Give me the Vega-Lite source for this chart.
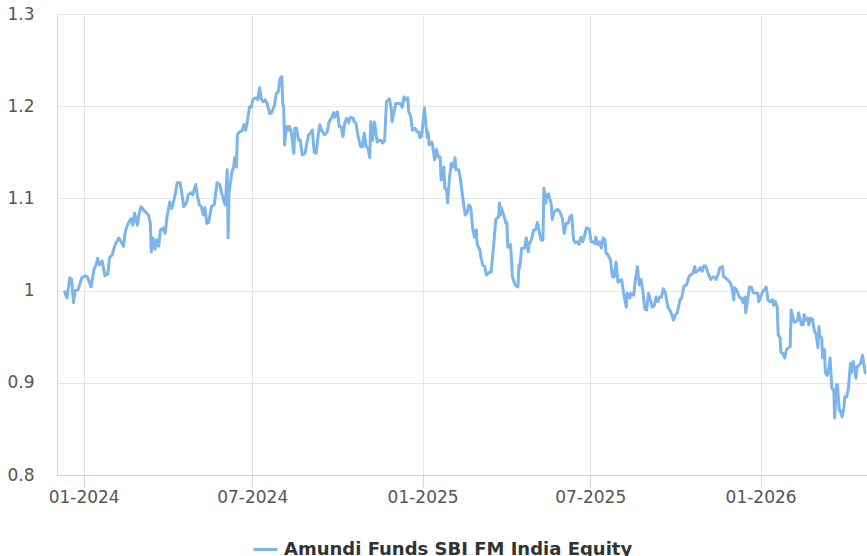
{
  "$schema": "https://vega.github.io/schema/vega-lite/v6.json",
  "width": 810,
  "height": 461,
  "autosize": "none",
  "padding": {"left": 57, "top": 14, "right": 0, "bottom": 81},
  "background": "#ffffff",
  "config": {
    "view": {"stroke": null},
    "axis": {
      "labelFont": "DejaVu Sans",
      "labelFontSize": 17,
      "labelColor": "#555555",
      "gridColor": "#e6e6e6",
      "gridWidth": 1,
      "domainColor": "#ccd6eb",
      "domainWidth": 1,
      "tickColor": "#ccd6eb",
      "title": null
    },
    "legend": {
      "labelFont": "DejaVu Sans",
      "labelFontSize": 18,
      "labelFontWeight": "bold",
      "labelColor": "#333333",
      "labelLimit": 600,
      "padding": 0
    }
  },
  "data": {
    "values": [
      {"date":"2023-12-11","value":1.000},{"date":"2023-12-14","value":0.992},{"date":"2023-12-17","value":1.014},{"date":"2023-12-19","value":1.012},{"date":"2023-12-21","value":0.987},{"date":"2023-12-23","value":1.000},{"date":"2023-12-26","value":1.001},{"date":"2023-12-30","value":1.014},
      {"date":"2024-01-03","value":1.016},{"date":"2024-01-05","value":1.015},{"date":"2024-01-09","value":1.004},{"date":"2024-01-12","value":1.022},{"date":"2024-01-15","value":1.030},{"date":"2024-01-16","value":1.035},{"date":"2024-01-18","value":1.028},{"date":"2024-01-21","value":1.032},{"date":"2024-01-24","value":1.016},{"date":"2024-01-27","value":1.018},{"date":"2024-01-29","value":1.036},
      {"date":"2024-02-01","value":1.039},{"date":"2024-02-03","value":1.047},{"date":"2024-02-05","value":1.052},{"date":"2024-02-08","value":1.057},{"date":"2024-02-11","value":1.052},{"date":"2024-02-13","value":1.048},{"date":"2024-02-15","value":1.064},{"date":"2024-02-18","value":1.073},{"date":"2024-02-21","value":1.078},{"date":"2024-02-23","value":1.071},{"date":"2024-02-25","value":1.084},{"date":"2024-02-28","value":1.071},
      {"date":"2024-03-01","value":1.084},{"date":"2024-03-03","value":1.091},{"date":"2024-03-06","value":1.087},{"date":"2024-03-09","value":1.084},{"date":"2024-03-11","value":1.082},{"date":"2024-03-13","value":1.073},{"date":"2024-03-14","value":1.042},{"date":"2024-03-16","value":1.057},{"date":"2024-03-18","value":1.045},{"date":"2024-03-20","value":1.055},{"date":"2024-03-22","value":1.048},{"date":"2024-03-24","value":1.066},{"date":"2024-03-27","value":1.068},{"date":"2024-03-29","value":1.062},{"date":"2024-03-31","value":1.080},
      {"date":"2024-04-03","value":1.096},{"date":"2024-04-05","value":1.089},{"date":"2024-04-07","value":1.096},{"date":"2024-04-09","value":1.105},{"date":"2024-04-11","value":1.117},{"date":"2024-04-14","value":1.117},{"date":"2024-04-16","value":1.106},{"date":"2024-04-18","value":1.091},{"date":"2024-04-21","value":1.095},{"date":"2024-04-23","value":1.104},{"date":"2024-04-26","value":1.106},{"date":"2024-04-28","value":1.104},
      {"date":"2024-05-01","value":1.115},{"date":"2024-05-03","value":1.102},{"date":"2024-05-05","value":1.093},{"date":"2024-05-07","value":1.091},{"date":"2024-05-09","value":1.082},{"date":"2024-05-11","value":1.090},{"date":"2024-05-13","value":1.073},{"date":"2024-05-15","value":1.074},{"date":"2024-05-18","value":1.091},{"date":"2024-05-21","value":1.093},{"date":"2024-05-24","value":1.117},{"date":"2024-05-27","value":1.115},{"date":"2024-05-29","value":1.106},
      {"date":"2024-06-01","value":1.095},{"date":"2024-06-02","value":1.093},{"date":"2024-06-04","value":1.131},{"date":"2024-06-05","value":1.057},{"date":"2024-06-06","value":1.106},{"date":"2024-06-09","value":1.128},{"date":"2024-06-11","value":1.134},{"date":"2024-06-12","value":1.144},{"date":"2024-06-14","value":1.134},{"date":"2024-06-15","value":1.169},{"date":"2024-06-17","value":1.172},{"date":"2024-06-20","value":1.173},{"date":"2024-06-22","value":1.180},{"date":"2024-06-24","value":1.174},{"date":"2024-06-26","value":1.185},{"date":"2024-06-28","value":1.199},{"date":"2024-06-30","value":1.199},
      {"date":"2024-07-02","value":1.208},{"date":"2024-07-05","value":1.209},{"date":"2024-07-07","value":1.207},{"date":"2024-07-09","value":1.220},{"date":"2024-07-11","value":1.207},{"date":"2024-07-13","value":1.205},{"date":"2024-07-15","value":1.207},{"date":"2024-07-17","value":1.203},{"date":"2024-07-20","value":1.192},{"date":"2024-07-22","value":1.193},{"date":"2024-07-25","value":1.201},{"date":"2024-07-27","value":1.214},{"date":"2024-07-29","value":1.215},{"date":"2024-07-31","value":1.230},
      {"date":"2024-08-02","value":1.232},{"date":"2024-08-03","value":1.203},{"date":"2024-08-04","value":1.199},{"date":"2024-08-05","value":1.158},{"date":"2024-08-07","value":1.178},{"date":"2024-08-09","value":1.174},{"date":"2024-08-10","value":1.178},{"date":"2024-08-12","value":1.173},{"date":"2024-08-15","value":1.149},{"date":"2024-08-16","value":1.176},{"date":"2024-08-18","value":1.176},{"date":"2024-08-20","value":1.163},{"date":"2024-08-22","value":1.163},{"date":"2024-08-24","value":1.147},{"date":"2024-08-27","value":1.149},{"date":"2024-08-29","value":1.160},{"date":"2024-08-31","value":1.169},
      {"date":"2024-09-02","value":1.171},{"date":"2024-09-04","value":1.174},{"date":"2024-09-06","value":1.150},{"date":"2024-09-08","value":1.149},{"date":"2024-09-10","value":1.166},{"date":"2024-09-12","value":1.180},{"date":"2024-09-14","value":1.174},{"date":"2024-09-17","value":1.169},{"date":"2024-09-20","value":1.172},{"date":"2024-09-22","value":1.183},{"date":"2024-09-25","value":1.188},{"date":"2024-09-27","value":1.193},{"date":"2024-09-28","value":1.188},
      {"date":"2024-10-01","value":1.194},{"date":"2024-10-03","value":1.178},{"date":"2024-10-05","value":1.178},{"date":"2024-10-07","value":1.167},{"date":"2024-10-09","value":1.182},{"date":"2024-10-11","value":1.187},{"date":"2024-10-13","value":1.182},{"date":"2024-10-15","value":1.188},{"date":"2024-10-18","value":1.187},{"date":"2024-10-19","value":1.183},{"date":"2024-10-21","value":1.182},{"date":"2024-10-23","value":1.169},{"date":"2024-10-26","value":1.156},{"date":"2024-10-28","value":1.156},{"date":"2024-10-30","value":1.171},
      {"date":"2024-11-01","value":1.156},{"date":"2024-11-03","value":1.155},{"date":"2024-11-05","value":1.144},{"date":"2024-11-06","value":1.183},{"date":"2024-11-08","value":1.163},{"date":"2024-11-10","value":1.183},{"date":"2024-11-13","value":1.161},{"date":"2024-11-15","value":1.163},{"date":"2024-11-17","value":1.163},{"date":"2024-11-19","value":1.160},{"date":"2024-11-21","value":1.163},{"date":"2024-11-23","value":1.205},{"date":"2024-11-26","value":1.208},{"date":"2024-11-28","value":1.199},{"date":"2024-11-29","value":1.183},
      {"date":"2024-12-01","value":1.193},{"date":"2024-12-03","value":1.203},{"date":"2024-12-06","value":1.203},{"date":"2024-12-08","value":1.203},{"date":"2024-12-10","value":1.199},{"date":"2024-12-12","value":1.210},{"date":"2024-12-14","value":1.207},{"date":"2024-12-16","value":1.209},{"date":"2024-12-17","value":1.194},{"date":"2024-12-19","value":1.190},{"date":"2024-12-21","value":1.174},{"date":"2024-12-24","value":1.176},{"date":"2024-12-26","value":1.172},{"date":"2024-12-28","value":1.172},{"date":"2024-12-29","value":1.166},{"date":"2024-12-31","value":1.167},
      {"date":"2025-01-03","value":1.198},{"date":"2025-01-04","value":1.187},{"date":"2025-01-06","value":1.166},{"date":"2025-01-07","value":1.172},{"date":"2025-01-08","value":1.158},{"date":"2025-01-11","value":1.161},{"date":"2025-01-12","value":1.156},{"date":"2025-01-14","value":1.142},{"date":"2025-01-16","value":1.153},{"date":"2025-01-18","value":1.145},{"date":"2025-01-20","value":1.145},{"date":"2025-01-21","value":1.120},{"date":"2025-01-24","value":1.134},{"date":"2025-01-25","value":1.111},{"date":"2025-01-27","value":1.109},{"date":"2025-01-28","value":1.095},{"date":"2025-01-30","value":1.122},
      {"date":"2025-02-01","value":1.138},{"date":"2025-02-03","value":1.134},{"date":"2025-02-05","value":1.144},{"date":"2025-02-06","value":1.131},{"date":"2025-02-09","value":1.131},{"date":"2025-02-11","value":1.120},{"date":"2025-02-13","value":1.104},{"date":"2025-02-16","value":1.082},{"date":"2025-02-18","value":1.084},{"date":"2025-02-20","value":1.093},{"date":"2025-02-22","value":1.090},{"date":"2025-02-24","value":1.068},{"date":"2025-02-26","value":1.058},{"date":"2025-02-28","value":1.066},
      {"date":"2025-03-01","value":1.050},{"date":"2025-03-04","value":1.044},{"date":"2025-03-05","value":1.036},{"date":"2025-03-07","value":1.028},{"date":"2025-03-09","value":1.026},{"date":"2025-03-11","value":1.017},{"date":"2025-03-14","value":1.020},{"date":"2025-03-16","value":1.020},{"date":"2025-03-19","value":1.052},{"date":"2025-03-21","value":1.077},{"date":"2025-03-24","value":1.080},{"date":"2025-03-25","value":1.095},{"date":"2025-03-26","value":1.082},{"date":"2025-03-27","value":1.090},{"date":"2025-03-29","value":1.084},
      {"date":"2025-04-01","value":1.073},{"date":"2025-04-02","value":1.074},{"date":"2025-04-03","value":1.047},{"date":"2025-04-06","value":1.050},{"date":"2025-04-07","value":1.033},{"date":"2025-04-08","value":1.015},{"date":"2025-04-11","value":1.006},{"date":"2025-04-14","value":1.004},{"date":"2025-04-15","value":1.028},{"date":"2025-04-16","value":1.025},{"date":"2025-04-18","value":1.046},{"date":"2025-04-21","value":1.046},{"date":"2025-04-23","value":1.057},{"date":"2025-04-25","value":1.042},{"date":"2025-04-26","value":1.050},{"date":"2025-04-29","value":1.057},
      {"date":"2025-05-01","value":1.066},{"date":"2025-05-03","value":1.066},{"date":"2025-05-05","value":1.074},{"date":"2025-05-07","value":1.064},{"date":"2025-05-09","value":1.055},{"date":"2025-05-11","value":1.055},{"date":"2025-05-12","value":1.111},{"date":"2025-05-14","value":1.095},{"date":"2025-05-15","value":1.104},{"date":"2025-05-17","value":1.105},{"date":"2025-05-20","value":1.093},{"date":"2025-05-21","value":1.077},{"date":"2025-05-23","value":1.085},{"date":"2025-05-25","value":1.087},{"date":"2025-05-27","value":1.088},{"date":"2025-05-30","value":1.084},
      {"date":"2025-06-01","value":1.078},{"date":"2025-06-03","value":1.062},{"date":"2025-06-05","value":1.073},{"date":"2025-06-07","value":1.073},{"date":"2025-06-09","value":1.080},{"date":"2025-06-11","value":1.082},{"date":"2025-06-13","value":1.055},{"date":"2025-06-15","value":1.052},{"date":"2025-06-17","value":1.053},{"date":"2025-06-19","value":1.050},{"date":"2025-06-21","value":1.058},{"date":"2025-06-23","value":1.053},{"date":"2025-06-25","value":1.060},{"date":"2025-06-27","value":1.068},{"date":"2025-06-30","value":1.067},
      {"date":"2025-07-02","value":1.053},{"date":"2025-07-04","value":1.053},{"date":"2025-07-06","value":1.051},{"date":"2025-07-07","value":1.058},{"date":"2025-07-09","value":1.050},{"date":"2025-07-11","value":1.053},{"date":"2025-07-13","value":1.046},{"date":"2025-07-15","value":1.057},{"date":"2025-07-17","value":1.055},{"date":"2025-07-18","value":1.041},{"date":"2025-07-20","value":1.039},{"date":"2025-07-23","value":1.033},{"date":"2025-07-25","value":1.015},{"date":"2025-07-27","value":1.015},{"date":"2025-07-29","value":1.031},{"date":"2025-07-31","value":1.009},
      {"date":"2025-08-04","value":1.012},{"date":"2025-08-06","value":0.998},{"date":"2025-08-09","value":0.982},{"date":"2025-08-10","value":0.997},{"date":"2025-08-13","value":0.992},{"date":"2025-08-14","value":0.997},{"date":"2025-08-17","value":0.995},{"date":"2025-08-19","value":1.014},{"date":"2025-08-21","value":1.026},{"date":"2025-08-23","value":1.006},{"date":"2025-08-25","value":1.012},{"date":"2025-08-27","value":0.998},{"date":"2025-08-29","value":0.980},{"date":"2025-08-31","value":0.979},
      {"date":"2025-09-02","value":0.997},{"date":"2025-09-04","value":0.990},{"date":"2025-09-06","value":0.982},{"date":"2025-09-08","value":0.983},{"date":"2025-09-10","value":0.993},{"date":"2025-09-12","value":0.988},{"date":"2025-09-14","value":0.993},{"date":"2025-09-16","value":0.993},{"date":"2025-09-18","value":1.002},{"date":"2025-09-20","value":0.998},{"date":"2025-09-23","value":0.982},{"date":"2025-09-25","value":0.979},{"date":"2025-09-27","value":0.974},{"date":"2025-09-29","value":0.968},
      {"date":"2025-10-01","value":0.974},{"date":"2025-10-03","value":0.976},{"date":"2025-10-06","value":0.990},{"date":"2025-10-08","value":0.993},{"date":"2025-10-10","value":1.004},{"date":"2025-10-12","value":1.006},{"date":"2025-10-13","value":1.006},{"date":"2025-10-16","value":1.016},{"date":"2025-10-18","value":1.017},{"date":"2025-10-20","value":1.019},{"date":"2025-10-22","value":1.026},{"date":"2025-10-23","value":1.020},{"date":"2025-10-26","value":1.022},{"date":"2025-10-28","value":1.025},{"date":"2025-10-30","value":1.021},
      {"date":"2025-11-01","value":1.027},{"date":"2025-11-03","value":1.026},{"date":"2025-11-05","value":1.020},{"date":"2025-11-08","value":1.012},{"date":"2025-11-10","value":1.014},{"date":"2025-11-12","value":1.015},{"date":"2025-11-14","value":1.012},{"date":"2025-11-16","value":1.017},{"date":"2025-11-18","value":1.025},{"date":"2025-11-21","value":1.026},{"date":"2025-11-22","value":1.015},{"date":"2025-11-24","value":1.014},{"date":"2025-11-26","value":1.012},{"date":"2025-11-29","value":1.009},
      {"date":"2025-12-01","value":1.004},{"date":"2025-12-03","value":0.990},{"date":"2025-12-04","value":1.003},{"date":"2025-12-06","value":1.001},{"date":"2025-12-09","value":0.993},{"date":"2025-12-11","value":0.992},{"date":"2025-12-13","value":0.987},{"date":"2025-12-15","value":0.993},{"date":"2025-12-16","value":0.976},{"date":"2025-12-18","value":0.990},{"date":"2025-12-20","value":1.004},{"date":"2025-12-22","value":1.004},{"date":"2025-12-24","value":0.998},{"date":"2025-12-27","value":0.997},{"date":"2025-12-29","value":0.997},{"date":"2025-12-30","value":0.988},
      {"date":"2026-01-01","value":0.993},{"date":"2026-01-03","value":0.998},{"date":"2026-01-05","value":1.001},{"date":"2026-01-07","value":1.004},{"date":"2026-01-09","value":0.990},{"date":"2026-01-11","value":0.988},{"date":"2026-01-14","value":0.990},{"date":"2026-01-15","value":0.984},{"date":"2026-01-17","value":0.988},{"date":"2026-01-19","value":0.982},{"date":"2026-01-20","value":0.952},{"date":"2026-01-22","value":0.949},{"date":"2026-01-23","value":0.933},{"date":"2026-01-25","value":0.932},{"date":"2026-01-27","value":0.927},{"date":"2026-01-29","value":0.936},{"date":"2026-01-31","value":0.938},
      {"date":"2026-02-02","value":0.939},{"date":"2026-02-03","value":0.979},{"date":"2026-02-06","value":0.966},{"date":"2026-02-08","value":0.966},{"date":"2026-02-10","value":0.968},{"date":"2026-02-11","value":0.976},{"date":"2026-02-14","value":0.963},{"date":"2026-02-16","value":0.963},{"date":"2026-02-17","value":0.974},{"date":"2026-02-19","value":0.968},{"date":"2026-02-21","value":0.970},{"date":"2026-02-22","value":0.963},{"date":"2026-02-24","value":0.970},{"date":"2026-02-26","value":0.969},{"date":"2026-02-28","value":0.957},
      {"date":"2026-03-02","value":0.952},{"date":"2026-03-04","value":0.938},{"date":"2026-03-05","value":0.961},{"date":"2026-03-06","value":0.950},{"date":"2026-03-08","value":0.949},{"date":"2026-03-09","value":0.927},{"date":"2026-03-11","value":0.936},{"date":"2026-03-12","value":0.911},{"date":"2026-03-14","value":0.908},{"date":"2026-03-16","value":0.917},{"date":"2026-03-17","value":0.927},{"date":"2026-03-19","value":0.894},{"date":"2026-03-21","value":0.892},{"date":"2026-03-22","value":0.862},{"date":"2026-03-24","value":0.898},{"date":"2026-03-25","value":0.898},{"date":"2026-03-27","value":0.870},{"date":"2026-03-28","value":0.870},{"date":"2026-03-30","value":0.863},
      {"date":"2026-04-01","value":0.873},{"date":"2026-04-02","value":0.885},{"date":"2026-04-04","value":0.885},{"date":"2026-04-06","value":0.895},{"date":"2026-04-08","value":0.921},{"date":"2026-04-09","value":0.911},{"date":"2026-04-11","value":0.923},{"date":"2026-04-12","value":0.917},{"date":"2026-04-14","value":0.905},{"date":"2026-04-15","value":0.917},{"date":"2026-04-17","value":0.919},{"date":"2026-04-19","value":0.921},{"date":"2026-04-21","value":0.930},{"date":"2026-04-22","value":0.924},{"date":"2026-04-24","value":0.911},{"date":"2026-04-25","value":0.911}
    ]
  },
  "mark": {"type": "line", "strokeWidth": 3, "strokeJoin": "round", "clip": true},
  "encoding": {
    "x": {
      "field": "date",
      "type": "temporal",
      "scale": {"domain": [{"year": 2023, "month": 12, "date": 3, "hours": 5}, {"year": 2026, "month": 4, "date": 25, "hours": 22}]},
      "axis": {
        "format": "%m-%Y",
        "tickCount": {"interval": "month", "step": 6},
        "tickSize": 12,
        "labelPadding": 2,
        "grid": true,
        "labelFlush": false,
        "labelOverlap": false
      }
    },
    "y": {
      "field": "value",
      "type": "quantitative",
      "scale": {"domain": [0.8, 1.3], "nice": false, "zero": false},
      "axis": {
        "values": [0.8, 0.9, 1.0, 1.1, 1.2, 1.3],
        "format": "~g",
        "ticks": false,
        "tickSize": 0,
        "labelPadding": 23,
        "grid": true
      }
    },
    "color": {
      "datum": "Amundi Funds SBI FM India Equity",
      "type": "nominal",
      "scale": {"range": ["#7cb5ec"]},
      "legend": {
        "title": null,
        "orient": "none",
        "legendX": 195,
        "legendY": 522,
        "symbolType": "stroke",
        "symbolStrokeWidth": 3,
        "symbolSize": 576,
        "labelOffset": 5
      }
    }
  }
}
